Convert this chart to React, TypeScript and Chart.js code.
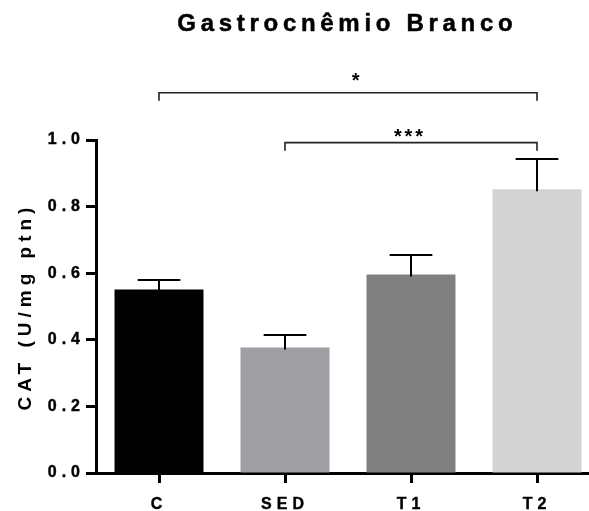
import React, { useEffect, useRef } from 'react';
import { Chart, registerables } from 'chart.js';

Chart.register(...registerables);

const categories = ['C', 'SED', 'T1', 'T2'];
const means = [0.551, 0.377, 0.596, 0.852];
const sems = [0.03, 0.036, 0.06, 0.09];
const barColors = ['#000000', '#a0a0a4', '#808080', '#d3d3d3'];
const yMin = 0;
const yMax = 1.0;
const yStep = 0.2;
const chartTitle = 'Gastrocnêmio Branco';
const yAxisTitle = 'CAT (U/mg ptn)';
const compFrom = [0, 1];
const compTo = [3, 3];
const compLevel = [1.142, 0.992];
const compLabel = ['*', '***'];

const FONT = 'Arial, "Liberation Sans", sans-serif';

function drawSpaced(ctx: CanvasRenderingContext2D, text: string, cx: number, y: number, spacing: number, stroke = 0) {
  ctx.letterSpacing = spacing + 'px';
  const w = ctx.measureText(text).width - spacing;
  ctx.textAlign = 'left';
  ctx.fillText(text, cx - w / 2, y);
  if (stroke > 0) {
    ctx.lineWidth = stroke;
    ctx.strokeStyle = ctx.fillStyle as string;
    ctx.lineJoin = 'round';
    ctx.strokeText(text, cx - w / 2, y);
  }
}

const spacingPlugin = {
  id: 'spacing',
  beforeLayout(chart: any) {
    chart.ctx.letterSpacing = '5px';
  },
  beforeDraw(chart: any) {
    chart.ctx.letterSpacing = '5px';
  },
};

const errorBarPlugin = {
  id: 'errorBars',
  afterDatasetsDraw(chart: any) {
    const ctx = chart.ctx as CanvasRenderingContext2D;
    const meta = chart.getDatasetMeta(0);
    const y = chart.scales.y;
    ctx.save();
    ctx.strokeStyle = '#000';
    ctx.lineWidth = 2;
    meta.data.forEach((bar: any, i: number) => {
      const top = Math.round(y.getPixelForValue(means[i] + sems[i]));
      const x = Math.round(bar.x);
      const half = bar.width * 0.24;
      ctx.beginPath();
      ctx.moveTo(x, bar.y + 2);
      ctx.lineTo(x, top);
      ctx.moveTo(x - half, top);
      ctx.lineTo(x + half, top);
      ctx.stroke();
    });
    ctx.restore();
  },
};

const annotationPlugin = {
  id: 'annotations',
  afterDraw(chart: any) {
    const ctx = chart.ctx as CanvasRenderingContext2D;
    const meta = chart.getDatasetMeta(0);
    const y = chart.scales.y;
    const area = chart.chartArea;
    ctx.save();
    const labelOffsets = [16.7, 10.7];
    const labelFrac = [0.52, 0.49];
    compFrom.forEach((f, k) => {
      const x0 = meta.data[f].x;
      const x1 = meta.data[compTo[k]].x;
      const yy = y.getPixelForValue(compLevel[k]);
      ctx.strokeStyle = '#222';
      ctx.lineWidth = 1.6;
      ctx.beginPath();
      ctx.moveTo(x0, yy + 8);
      ctx.lineTo(x0, yy);
      ctx.lineTo(x1, yy);
      ctx.lineTo(x1, yy + 8);
      ctx.stroke();
      ctx.fillStyle = '#000';
      ctx.font = `bold 20px ${FONT}`;
      ctx.textBaseline = 'alphabetic';
      const cx = x0 + (x1 - x0) * labelFrac[k];
      drawSpaced(ctx, compLabel[k], cx, yy - labelOffsets[k] + 11.4, 2.8);
    });
    ctx.fillStyle = '#000';
    ctx.font = `bold 24px ${FONT}`;
    ctx.textBaseline = 'alphabetic';
    drawSpaced(ctx, chartTitle, (area.left + area.right) / 2 - 3, 30.5, 4.7, 0.5);
    ctx.restore();
  },
};

export default function App() {
  const ref = useRef<HTMLCanvasElement | null>(null);

  useEffect(() => {
    if (!ref.current) return;
    const chart = new Chart(ref.current, {
      type: 'bar',
      data: {
        labels: categories,
        datasets: [
          {
            data: means,
            backgroundColor: barColors,
            borderWidth: 0,
            categoryPercentage: 1,
            barPercentage: 0.706,
          },
        ],
      },
      options: {
        animation: false,
        responsive: false,
        devicePixelRatio: 1,
        layout: { padding: { top: 140, left: 0, right: 0, bottom: 0 } },
        plugins: {
          legend: { display: false },
          title: { display: false },
          tooltip: { enabled: false },
        },
        scales: {
          x: {
            offset: true,
            grid: {
              display: true,
              offset: false,
              drawOnChartArea: false,
              tickLength: 10,
              tickWidth: 3,
              tickColor: '#000',
            },
            border: { display: true, color: '#000', width: 3 },
            ticks: {
              color: '#000',
              font: { family: FONT, size: 16, weight: 'bold' },
              padding: 12,
              maxRotation: 0,
              autoSkip: false,
              textStrokeColor: '#000',
              textStrokeWidth: 0.4,
            },
            afterFit(scale: any) {
              scale.height = 38;
              scale.paddingLeft = 0;
              scale.paddingRight = 0;
            },
          },
          y: {
            min: yMin,
            max: yMax,
            grid: {
              display: true,
              drawOnChartArea: false,
              tickLength: 10,
              tickWidth: 3,
              tickColor: '#000',
            },
            border: { display: true, color: '#000', width: 3 },
            ticks: {
              stepSize: yStep,
              color: '#000',
              font: { family: FONT, size: 16, weight: 'bold' },
              padding: 1,
              textStrokeColor: '#000',
              textStrokeWidth: 0.4,
              callback: (v: any) => Number(v).toFixed(1),
            },
            title: {
              display: true,
              text: yAxisTitle,
              color: '#000',
              font: { family: FONT, size: 19, weight: 'bold' },
              padding: { top: 14, bottom: 0 },
            },
            afterFit(scale: any) {
              scale.width = 96;
              scale.paddingTop = 0;
              scale.paddingBottom = 0;
            },
          },
        },
      },
      plugins: [spacingPlugin, errorBarPlugin, annotationPlugin],
    } as any);
    return () => chart.destroy();
  }, []);

  return (
    <div style={{ position: 'fixed', left: 0, top: 0, width: 589, height: 511, overflow: 'hidden', background: '#fff' }}>
      <canvas ref={ref} width={600} height={511} style={{ width: 600, height: 511, display: 'block' }} />
    </div>
  );
}
